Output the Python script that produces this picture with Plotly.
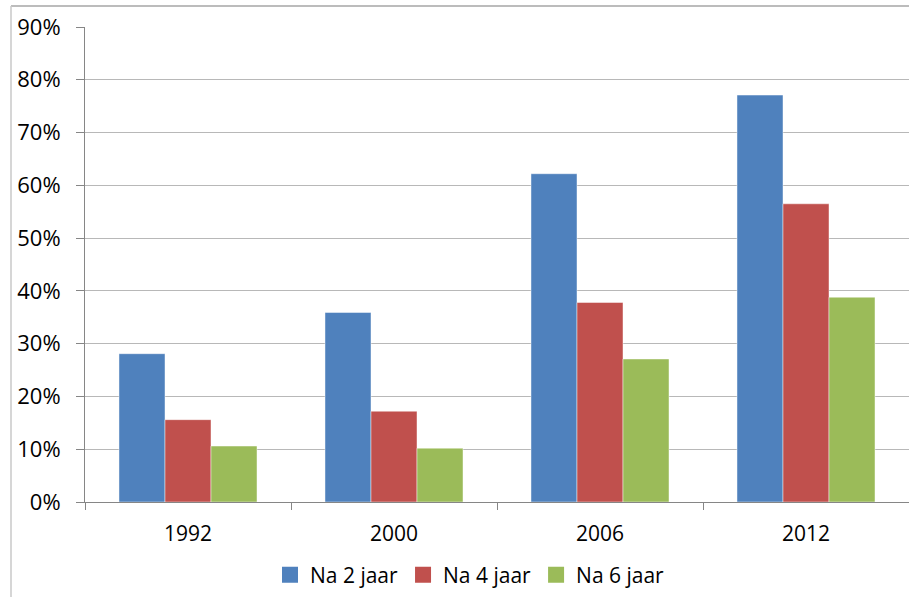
import plotly.graph_objects as go

years = ["1992", "2000", "2006", "2012"]
na2 = [0.281, 0.359, 0.622, 0.771]
na4 = [0.156, 0.172, 0.378, 0.565]
na6 = [0.106, 0.102, 0.271, 0.388]
series_names = ["Na 2 jaar", "Na 4 jaar", "Na 6 jaar"]
colors = ["#4F81BD", "#C0504D", "#9BBB59"]

FONT = "Open Sans"
fig = go.Figure()
for name, vals, c in zip(series_names, [na2, na4, na6], colors):
    fig.add_trace(go.Bar(
        x=years, y=vals, name=name, showlegend=False,
        marker=dict(color=c, line=dict(color="rgba(255,255,255,0.45)", width=1)),
    ))
# legend entries with larger square swatches
for name, c in zip(series_names, colors):
    fig.add_trace(go.Scatter(
        x=[None], y=[None], mode="markers", name=name, showlegend=True,
        marker=dict(symbol="square", size=16, color=c),
    ))

W, H = 909, 597
L, R, T, B = 85, 0, 27, 95
pw, ph = W - L - R, H - T - B

def px_x(p):
    return (p - L) / pw

def px_y(p):
    return (H - B - p) / ph

fig.update_layout(
    width=W, height=H,
    margin=dict(l=L, r=R, t=T, b=B),
    paper_bgcolor="white", plot_bgcolor="white",
    barmode="group", bargap=0.33, bargroupgap=0,
    font=dict(family=FONT, size=22, color="#000000"),
    showlegend=True,
    legend=dict(orientation="h", x=px_x(470), y=px_y(575), xanchor="center", yanchor="middle",
                font=dict(family=FONT, size=21, color="#000000"), itemwidth=30,
                itemsizing="trace", bgcolor="rgba(0,0,0,0)"),
    xaxis=dict(
        showline=True, linecolor="#868686", linewidth=1,
        ticks="outside", tickson="boundaries", ticklen=7, tickcolor="#868686",
        showgrid=False, ticklabelstandoff=13,
        tickfont=dict(family=FONT, size=21, color="#000000"),
    ),
    yaxis=dict(
        range=[0, 0.9], dtick=0.1, tick0=0, tickformat=".0%",
        showline=True, linecolor="#868686", linewidth=1,
        ticks="outside", ticklen=8, tickcolor="#868686",
        showgrid=True, gridcolor="#B8B8B8", gridwidth=1,
        zeroline=False, ticklabelstandoff=11,
        tickfont=dict(family=FONT, size=22, color="#000000"),
    ),
    shapes=[
        dict(type="line", xref="paper", yref="paper", x0=px_x(11), x1=px_x(W + 5),
             y0=px_y(6), y1=px_y(6), line=dict(color="#A6A6A6", width=1.5)),
        dict(type="line", xref="paper", yref="paper", x0=px_x(11), x1=px_x(11),
             y0=px_y(6), y1=px_y(H + 5), line=dict(color="#C8C8C8", width=1.5)),
    ],
)

fig.write_html("out.html", config={"displayModeBar": False},
               post_script="document.body.style.margin='0';document.body.style.overflow='hidden';")
